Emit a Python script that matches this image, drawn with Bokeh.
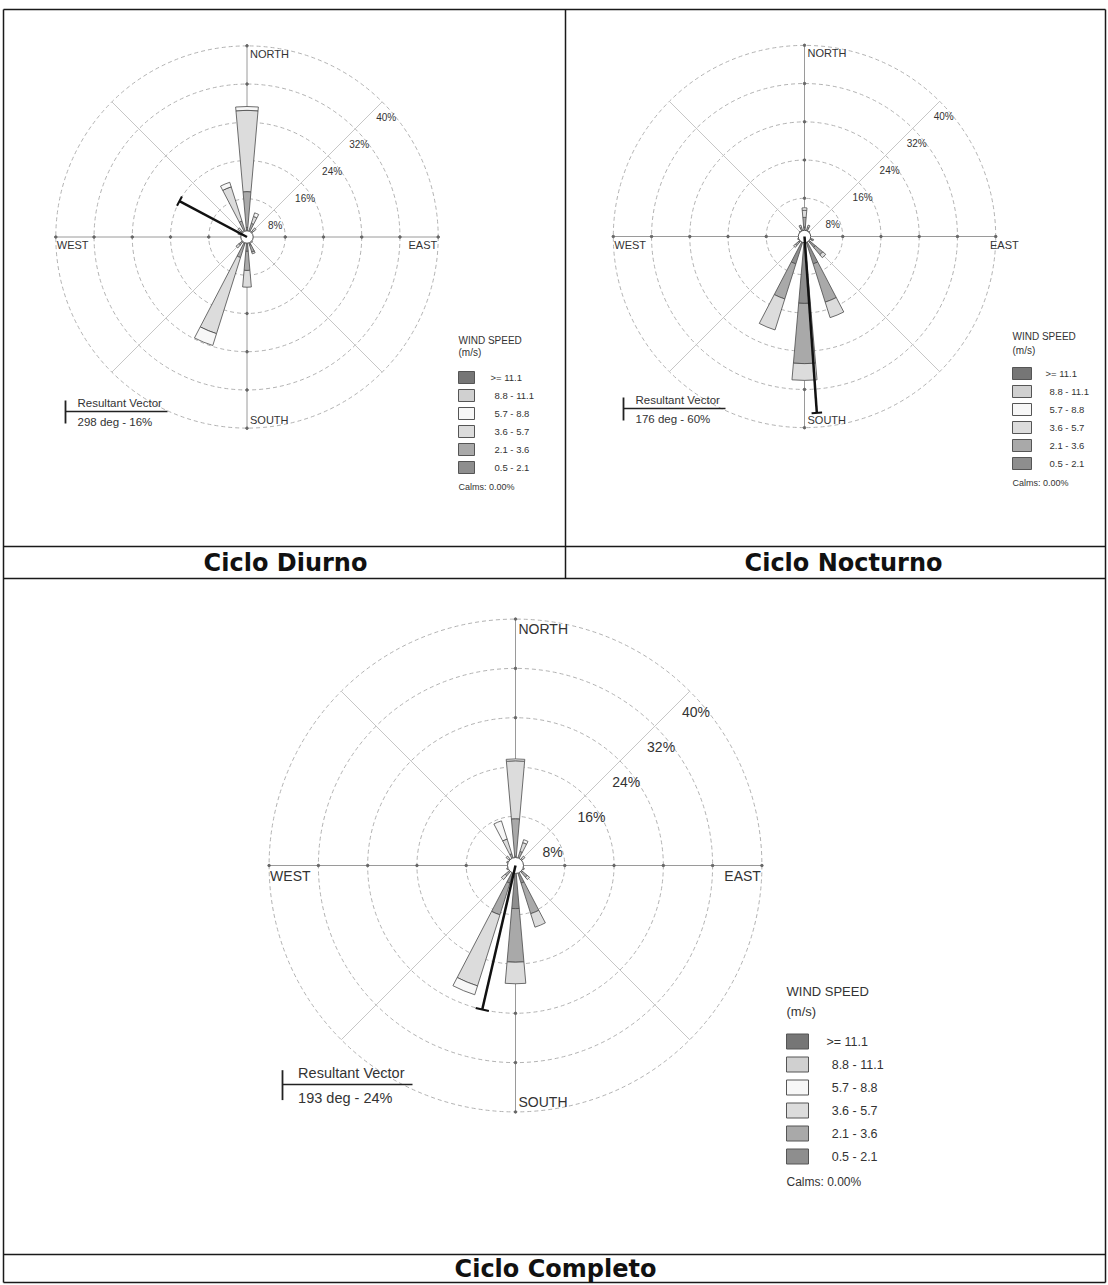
import math
from bokeh.plotting import figure
from bokeh.models import Range1d
from bokeh.embed import file_html
from bokeh.resources import INLINE
from bokeh.core.properties import value

# ---------------- data ----------------
directions = [0, 22.5, 45, 67.5, 90, 112.5, 135, 157.5,
              180, 202.5, 225, 247.5, 270, 292.5, 315, 337.5]
class_names = ["0.5 - 2.1", "2.1 - 3.6", "3.6 - 5.7", "5.7 - 8.8", "8.8 - 11.1", ">= 11.1"]
legend_labels = [">= 11.1", "8.8 - 11.1", "5.7 - 8.8", "3.6 - 5.7", "2.1 - 3.6", "0.5 - 2.1"]
class_colors = ["#8e8e8e", "#a9a9a9", "#dcdcdc", "#f7f7f7", "#d0d0d0", "#767676"]
ring_levels = [8, 16, 24, 32, 40]
ring_labels = ["8%", "16%", "24%", "32%", "40%"]

# Ciclo Diurno (percent per direction, by speed class)
diurno_05_21 = [2.0, 1.2, 0.9, 0.5, 0.5, 0.6, 0.7, 1.8, 3.0, 1.5, 1.2, 0.6, 0.5, 0.8, 0.8, 1.0]
diurno_21_36 = [7.5, 1.8, 0.9, 0.3, 0.3, 0.4, 0.5, 1.5, 4.0, 3.0, 1.0, 0.4, 0.3, 0.7, 0.8, 2.5]
diurno_36_57 = [17.0, 1.5, 0.7, 0.2, 0.2, 0.2, 0.3, 0.4, 3.5, 16.7, 0.8, 0.2, 0.2, 0.5, 0.9, 7.5]
diurno_57_88 = [0.8, 0.8, 0.0, 0.0, 0.0, 0.0, 0.0, 0.0, 0.0, 2.6, 0.0, 0.0, 0.0, 0.0, 0.0, 1.0]
diurno_88_111 = [0.0] * 16
diurno_111 = [0.0] * 16

# Ciclo Nocturno
nocturno_05_21 = [2.0, 1.2, 0.8, 0.5, 0.5, 1.0, 3.0, 6.0, 14.0, 6.0, 1.5, 0.8, 0.5, 0.5, 0.8, 1.2]
nocturno_21_36 = [2.0, 0.8, 0.5, 0.3, 0.3, 0.7, 2.0, 8.4, 12.6, 7.7, 1.0, 0.5, 0.3, 0.3, 0.5, 0.8]
nocturno_36_57 = [1.5, 0.5, 0.2, 0.2, 0.2, 0.3, 0.8, 3.4, 3.5, 6.8, 0.5, 0.2, 0.2, 0.2, 0.2, 0.5]
nocturno_57_88 = [0.5, 0.0, 0.0, 0.0, 0.0, 0.0, 0.0, 0.0, 0.0, 0.0, 0.0, 0.0, 0.0, 0.0, 0.0, 0.0]
nocturno_88_111 = [0.0] * 16
nocturno_111 = [0.0] * 16

# Ciclo Completo
completo_05_21 = [1.5, 1.0, 0.8, 0.5, 0.5, 0.6, 1.5, 3.0, 7.0, 3.0, 1.2, 0.6, 0.5, 0.6, 0.8, 0.8]
completo_21_36 = [6.1, 1.4, 0.7, 0.4, 0.4, 0.5, 1.0, 5.2, 8.7, 5.4, 1.0, 0.5, 0.4, 0.5, 0.6, 1.2]
completo_36_57 = [9.4, 1.5, 0.5, 0.3, 0.3, 0.4, 0.5, 2.3, 3.5, 12.1, 0.8, 0.4, 0.3, 0.4, 0.6, 2.5]
completo_57_88 = [0.3, 0.5, 0.0, 0.0, 0.0, 0.0, 0.0, 0.0, 0.0, 1.5, 0.0, 0.0, 0.0, 0.0, 0.0, 3.1]
completo_88_111 = [0.0] * 16
completo_111 = [0.0] * 16

titles = ["Ciclo Diurno", "Ciclo Nocturno", "Ciclo Completo"]
resultant_dir = [298, 176, 193]
resultant_pct = [16, 60, 24]
resultant_drawn_pct = [16, 37, 24]
calms_pct = ["0.00%", "0.00%", "0.00%"]

series = [
    [diurno_05_21, diurno_21_36, diurno_36_57, diurno_57_88, diurno_88_111, diurno_111],
    [nocturno_05_21, nocturno_21_36, nocturno_36_57, nocturno_57_88, nocturno_88_111, nocturno_111],
    [completo_05_21, completo_21_36, completo_36_57, completo_57_88, completo_88_111, completo_111],
]

# ---------------- layout ----------------
W, H = 1107, 1284
X0, Y0 = 0, 0
FONT = "Liberation Sans"
TXT = "#333333"

panels = [
    dict(cx=246.5, cy=236.5, s=4.78, east_shift=0, fs_axis=11, fs_ring=10,
         leg=dict(x=458, title_y=340, mps_y=352, row0=377, step=18, bw=16, bh=12,
                  lab_x=490, calms_y=486, fs=9.5),
         vleg=dict(x=65, y=411, L=102, fs=11.5, k=1.0)),
    dict(cx=804, cy=236, s=4.78, east_shift=24, fs_axis=11, fs_ring=10,
         leg=dict(x=1012, title_y=336, mps_y=350, row0=373, step=18, bw=19, bh=12,
                  lab_x=1045, calms_y=482, fs=9.5),
         vleg=dict(x=623, y=408, L=102, fs=11.5, k=1.0)),
    dict(cx=515, cy=865, s=6.16, east_shift=0, fs_axis=14, fs_ring=14,
         leg=dict(x=786, title_y=991, mps_y=1011, row0=1041, step=23, bw=22, bh=15,
                  lab_x=826, calms_y=1181, fs=12.5),
         vleg=dict(x=282, y=1084, L=130, fs=14.5, k=1.3)),
]
title_pos = [(285, 562), (843, 562), (555, 1268)]

p = figure(width=W, height=H, x_range=Range1d(X0, X0 + W), y_range=Range1d(Y0 + H, Y0),
           x_axis_type=None, y_axis_type=None, toolbar_location=None,
           output_backend="svg", min_border=0, outline_line_color=None,
           background_fill_color="white", border_fill_color="white")
p.xgrid.visible = False
p.ygrid.visible = False

xr, yr = {}, {}
for i, c in enumerate(panels):
    xr[f"r{i}x"] = Range1d((X0 - c["cx"]) / c["s"], (X0 + W - c["cx"]) / c["s"])
    yr[f"r{i}y"] = Range1d((c["cy"] - (Y0 + H)) / c["s"], (c["cy"] - Y0) / c["s"])
p.extra_x_ranges = xr
p.extra_y_ranges = yr


def txt(x, y, s, size, align="left", baseline="middle", font=FONT, color=TXT,
        style="normal", **kw):
    p.text(x=[x], y=[y], text=[s], text_font=value(font),
           text_font_size=value(f"{size}px"), text_align=align,
           text_baseline=baseline, text_color=color, text_font_style=style, **kw)


# ---------------- table frame ----------------
L_, R_, T_, B_ = 3, 1105, 9, 1282
tbl = [(L_, T_, R_, T_), (L_, T_, L_, B_), (R_, T_, R_, B_), (L_, B_, R_, B_),
       (565, T_, 565, 578), (L_, 546, R_, 546), (L_, 578, R_, 578), (L_, 1254, R_, 1254)]
p.segment(x0=[t[0] for t in tbl], y0=[t[1] for t in tbl], x1=[t[2] for t in tbl],
          y1=[t[3] for t in tbl], line_color="#1a1a1a", line_width=1.5)

for (tx, ty), t in zip(title_pos, titles):
    txt(tx, ty, t, 24, align="center", font="DejaVu Sans", color="#111111", style="bold")

RMAX = ring_levels[-1]
PETAL_W = math.radians(10)

for i, c in enumerate(panels):
    kw = dict(x_range_name=f"r{i}x", y_range_name=f"r{i}y")
    s = c["s"]
    # rings
    p.circle(x=[0] * len(ring_levels), y=[0] * len(ring_levels), radius=ring_levels,
             fill_color=None, line_color="#b2b2b2", line_dash="4 3", line_width=1, **kw)
    # spokes
    for a, col in [(0, "#9a9a9a"), (90, "#9a9a9a"), (45, "#c6c6c6"), (135, "#c6c6c6")]:
        t = math.radians(a)
        p.segment(x0=[-RMAX * math.sin(t)], y0=[-RMAX * math.cos(t)],
                  x1=[RMAX * math.sin(t)], y1=[RMAX * math.cos(t)],
                  line_color=col, line_width=1, **kw)
    # ticks on main axes
    tx_, ty_ = [], []
    for r in ring_levels:
        tx_ += [r, -r, 0, 0]
        ty_ += [0, 0, r, -r]
    p.scatter(x=tx_, y=ty_, size=2.5, color="#666666", **kw)

    # petals
    cum = [0.0] * len(directions)
    for j, vals in enumerate(series[i]):
        inn, out, st, en = [], [], [], []
        for d, v, c0 in zip(directions, vals, cum):
            if v > 0:
                m = math.pi / 2 - math.radians(d)
                inn.append(c0)
                out.append(c0 + v)
                st.append(m - PETAL_W / 2)
                en.append(m + PETAL_W / 2)
        if inn:
            p.annular_wedge(x=[0] * len(inn), y=[0] * len(inn), inner_radius=inn,
                            outer_radius=out, start_angle=st, end_angle=en,
                            fill_color=class_colors[j], line_color="#4a4a4a",
                            line_width=0.8, **kw)
        cum = [a + b for a, b in zip(cum, vals)]

    # centre (calms) circle
    p.circle(x=[0], y=[0], radius=[1.3], fill_color="white", line_color="#555555",
             line_width=1, **kw)

    # resultant vector
    t = math.radians(resultant_dir[i])
    L = resultant_drawn_pct[i]
    ex, ey = L * math.sin(t), L * math.cos(t)
    p.segment(x0=[0], y0=[0], x1=[ex], y1=[ey], line_color="#111111", line_width=2.5, **kw)
    cap = 1.1
    px_, py_ = math.cos(t), -math.sin(t)
    p.segment(x0=[ex - cap * px_], y0=[ey - cap * py_], x1=[ex + cap * px_],
              y1=[ey + cap * py_], line_color="#111111", line_width=2, **kw)

    # compass labels
    fa = c["fs_axis"]
    txt(3 / s, RMAX - 2 / s, "NORTH", fa, baseline="top", **kw)
    txt(3 / s, -RMAX + 2 / s, "SOUTH", fa, baseline="bottom", **kw)
    txt(-RMAX + 1 / s, -2 / s, "WEST", fa, baseline="top", **kw)
    txt(RMAX + (c["east_shift"] - 1) / s, -2 / s, "EAST", fa, align="right",
        baseline="top", **kw)

    # ring labels
    k = c["vleg"]["k"]
    for r, lab in zip(ring_levels, ring_labels):
        d = r * math.cos(math.pi / 4)
        txt(d - 6 * k / s, d - 10 * k / s, lab, c["fs_ring"], baseline="top", **kw)

    # legend
    lg = c["leg"]
    txt(lg["x"], lg["title_y"], "WIND SPEED", lg["fs"] + 0.5)
    txt(lg["x"], lg["mps_y"], "(m/s)", lg["fs"] + 0.5)
    n = len(legend_labels)
    rows = [lg["row0"] + q * lg["step"] for q in range(n)]
    box_colors = list(reversed(class_colors))
    p.quad(left=[lg["x"]] * n, right=[lg["x"] + lg["bw"]] * n,
           top=[y - lg["bh"] / 2 for y in rows], bottom=[y + lg["bh"] / 2 for y in rows],
           fill_color=box_colors, line_color="#555555", line_width=1)
    for q, (y, lab) in enumerate(zip(rows, legend_labels)):
        xoff = 0 if q == 0 else 4 * k
        txt(lg["lab_x"] + xoff, y, lab, lg["fs"])
    txt(lg["x"], lg["calms_y"], "Calms: " + calms_pct[i], lg["fs"] - 0.5)

    # resultant vector legend
    vl = c["vleg"]
    p.segment(x0=[vl["x"]], y0=[vl["y"] - 11 * k], x1=[vl["x"]], y1=[vl["y"] + 12 * k],
              line_color="#222222", line_width=1.8)
    p.segment(x0=[vl["x"]], y0=[vl["y"]], x1=[vl["x"] + vl["L"]], y1=[vl["y"]],
              line_color="#222222", line_width=1.5)
    txt(vl["x"] + 12 * k, vl["y"] - 3 * k, "Resultant Vector", vl["fs"], baseline="bottom")
    txt(vl["x"] + 12 * k, vl["y"] + 4 * k,
        f"{resultant_dir[i]} deg - {resultant_pct[i]}%", vl["fs"], baseline="top")

open("out.html", "w").write(file_html(p, INLINE))
